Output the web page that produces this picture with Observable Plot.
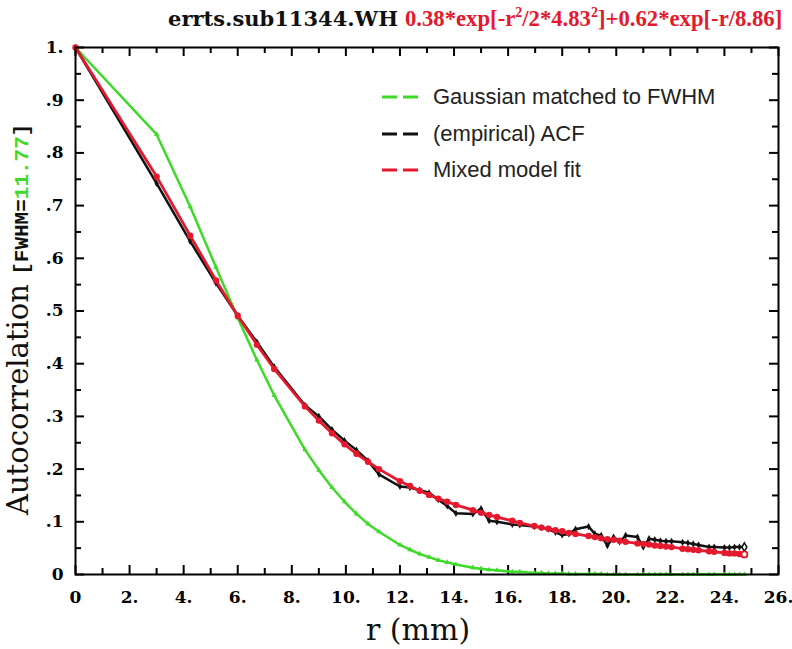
<!DOCTYPE html>
<html>
<head>
<meta charset="utf-8">
<script src="https://cdn.jsdelivr.net/npm/d3@7"></script>
<script src="https://cdn.jsdelivr.net/npm/@observablehq/plot@0.6"></script>
<style>
  html, body { margin: 0; padding: 0; background: #fff; }
  #chart { width: 792px; height: 649px; }
</style>
</head>
<body>
<div id="chart"></div>
<script>
// ---- data ----
const rVals = [0, 3.000, 4.243, 5.196, 6.000, 6.708, 7.348, 8.485, 9.000, 9.487, 9.950,
  10.392, 10.817, 11.225, 12.000, 12.369, 12.728, 13.077, 13.416, 13.748, 14.071,
  14.697, 15.000, 15.297, 15.588, 16.155, 16.432, 16.971, 17.234, 17.493, 17.748,
  18.000, 18.248, 18.493, 18.974, 19.209, 19.442, 19.672, 19.900, 20.125, 20.347,
  20.785, 21.000, 21.213, 21.424, 21.633, 21.840, 22.045, 22.450, 22.650, 22.847,
  23.043, 23.431, 23.622, 24.000, 24.187, 24.372, 24.556, 24.739];

const gaussianVals = [1.0, 0.835, 0.698, 0.583, 0.487, 0.407, 0.340, 0.237, 0.198, 0.165, 0.138,
  0.115, 0.096, 0.081, 0.056, 0.047, 0.039, 0.033, 0.027, 0.023, 0.019,
  0.013, 0.011, 0.009, 0.008, 0.005, 0.005, 0.003, 0.003, 0.002, 0.002,
  0.002, 0.001, 0.001, 0.001, 0.001, 0.001, 0.000, 0.000, 0.000, 0.000,
  0.000, 0.000, 0.000, 0.000, 0.000, 0.000, 0.000, 0.000, 0.000, 0.000,
  0.000, 0.000, 0.000, 0.000, 0.000, 0.000, 0.000, 0.000];

const acfVals = [1.0, 0.742, 0.632, 0.553, 0.491, 0.441, 0.394, 0.321, 0.300, 0.275, 0.254,
  0.236, 0.216, 0.190, 0.167, 0.165, 0.160, 0.155, 0.142, 0.130, 0.116,
  0.115, 0.125, 0.102, 0.100, 0.095, 0.094, 0.091, 0.089, 0.086, 0.080,
  0.075, 0.077, 0.086, 0.091, 0.077, 0.074, 0.055, 0.071, 0.062, 0.074,
  0.071, 0.052, 0.068, 0.066, 0.064, 0.063, 0.063, 0.061, 0.060, 0.058,
  0.056, 0.052, 0.052, 0.051, 0.051, 0.052, 0.052, 0.052];

const modelVals = [1.0, 0.755, 0.643, 0.558, 0.491, 0.436, 0.390, 0.319, 0.292, 0.268, 0.247,
  0.229, 0.214, 0.200, 0.177, 0.168, 0.159, 0.151, 0.144, 0.138, 0.132,
  0.122, 0.117, 0.113, 0.109, 0.102, 0.098, 0.092, 0.089, 0.087, 0.084,
  0.082, 0.079, 0.077, 0.073, 0.071, 0.069, 0.067, 0.066, 0.064, 0.062,
  0.059, 0.058, 0.057, 0.055, 0.054, 0.053, 0.052, 0.049, 0.048, 0.047,
  0.046, 0.044, 0.043, 0.041, 0.040, 0.040, 0.039, 0.038];

const xTicks = [0, 2, 4, 6, 8, 10, 12, 14, 16, 18, 20, 22, 24, 26];
const xTickLabels = ["0", "2.", "4.", "6.", "8.", "10.", "12.", "14.", "16.", "18.", "20.", "22.", "24.", "26."];
const xMinorTicks = [1, 3, 5, 7, 9, 11, 13, 15, 17, 19, 21, 23, 25];
const yTicks = [0, 0.1, 0.2, 0.3, 0.4, 0.5, 0.6, 0.7, 0.8, 0.9, 1.0];
const yTickLabels = ["0", ".1", ".2", ".3", ".4", ".5", ".6", ".7", ".8", ".9", "1."];
const yMinorTicks = [0.05, 0.15, 0.25, 0.35, 0.45, 0.55, 0.65, 0.75, 0.85, 0.95];

const seriesNames = ["Gaussian matched to FWHM", "(empirical) ACF", "Mixed model fit"];
const seriesColors = ["#3fd92a", "#111111", "#e5192e"];
const titleBlack = "errts.sub11344.WH";
const fwhmValue = "11.77";

// ---- build table ----
const rows = rVals.map((r, i) => ({r, g: gaussianVals[i], a: acfVals[i], m: modelVals[i]}));
const body = rows.slice(0, -1);
const last = rows.slice(-1);

const W = 792, H = 649, mL = 75, mR = 14, mT = 47, mB = 75;
const innerW = W - mL - mR, innerH = H - mT - mB;
const serif = "'DejaVu Serif', serif";
const serif2 = "'Liberation Serif', serif";

const plot = Plot.plot({
  width: W, height: H,
  marginLeft: mL, marginRight: mR, marginTop: mT, marginBottom: mB,
  x: {domain: [0, 26]},
  y: {domain: [0, 1]},
  style: {background: "white", color: "black"},
  marks: [
    // tick marks, inward on all sides
    Plot.ruleX(xTicks, {x: d => d, insetTop: innerH - 9, stroke: "black", strokeWidth: 2}),
    Plot.ruleX(xMinorTicks, {x: d => d, insetTop: innerH - 6, stroke: "black", strokeWidth: 2}),
    Plot.ruleX(xTicks, {x: d => d, insetBottom: innerH - 9, stroke: "black", strokeWidth: 2}),
    Plot.ruleX(xMinorTicks, {x: d => d, insetBottom: innerH - 6, stroke: "black", strokeWidth: 2}),
    Plot.ruleY(yTicks, {y: d => d, insetRight: innerW - 9, stroke: "black", strokeWidth: 2}),
    Plot.ruleY(yMinorTicks, {y: d => d, insetRight: innerW - 6, stroke: "black", strokeWidth: 2}),
    Plot.ruleY(yTicks, {y: d => d, insetLeft: innerW - 9, stroke: "black", strokeWidth: 2}),
    Plot.ruleY(yMinorTicks, {y: d => d, insetLeft: innerW - 6, stroke: "black", strokeWidth: 2}),
    Plot.axisX(xTicks, {tickSize: 0, tickPadding: 16, label: null,
      tickFormat: d => xTickLabels[xTicks.indexOf(d)],
      fontSize: 17, fontWeight: "bold", fontFamily: serif}),
    Plot.axisY(yTicks, {tickSize: 0, tickPadding: 12, label: null,
      tickFormat: d => yTickLabels[yTicks.indexOf(d)],
      fontSize: 17, fontWeight: "bold", fontFamily: serif}),
    // series
    Plot.line(rows, {x: "r", y: "g", stroke: seriesColors[0], strokeWidth: 2.5}),
    Plot.dot(rows, {x: "r", y: "g", symbol: "triangle", r: 2, fill: seriesColors[0]}),
    Plot.line(rows, {x: "r", y: "a", stroke: seriesColors[1], strokeWidth: 2.5}),
    Plot.dot(body, {x: "r", y: "a", symbol: "diamond", r: 2.2, fill: seriesColors[1]}),
    Plot.dot(last, {x: "r", y: "a", symbol: "diamond", r: 2.6, fill: "white", stroke: seriesColors[1], strokeWidth: 1.5}),
    Plot.line(rows, {x: "r", y: "m", stroke: seriesColors[2], strokeWidth: 2.8}),
    Plot.dot(body, {x: "r", y: "m", r: 3.2, fill: seriesColors[2]}),
    Plot.dot(last, {x: "r", y: "m", r: 3, fill: "white", stroke: seriesColors[2], strokeWidth: 1.8}),
    Plot.frame({stroke: "black", strokeWidth: 2})
  ]
});

document.getElementById("chart").appendChild(plot);
const svg = d3.select(plot);

// title (two parts)
svg.append("text")
  .attr("x", 398).attr("y", 26)
  .attr("text-anchor", "end")
  .attr("font-family", serif).attr("font-weight", "bold").attr("font-size", 21)
  .attr("fill", "#111")
  .text(titleBlack);
const red = seriesColors[2];
const tr = svg.append("text")
  .attr("x", 405).attr("y", 26)
  .attr("text-anchor", "start")
  .attr("font-family", serif2).attr("font-weight", "bold").attr("font-size", 22.7)
  .attr("fill", red);
tr.append("tspan").text("0.38*exp[-r");
tr.append("tspan").attr("font-size", 14).attr("dy", -9).text("2");
tr.append("tspan").attr("dy", 9).text("/2*4.83");
tr.append("tspan").attr("font-size", 14).attr("dy", -9).text("2");
tr.append("tspan").attr("dy", 9).text("]+0.62*exp[-r/8.86]");

// y-axis label
const ylab = svg.append("text")
  .attr("transform", "translate(28,515) rotate(-90)")
  .attr("text-anchor", "start");
const mono = "'Liberation Mono', monospace";
ylab.append("tspan").attr("font-family", serif).attr("font-size", 29).attr("fill", "#111").text("Autocorrelation ");
ylab.append("tspan").attr("font-family", mono).attr("font-weight", "bold").attr("font-size", 21).attr("fill", "#111").text("[FWHM=");
ylab.append("tspan").attr("font-family", mono).attr("font-weight", "bold").attr("font-size", 21).attr("fill", seriesColors[0]).text(fwhmValue);
ylab.append("tspan").attr("font-family", mono).attr("font-weight", "bold").attr("font-size", 21).attr("fill", "#111").text("]");

// x-axis label
svg.append("text")
  .attr("x", 418).attr("y", 640)
  .attr("text-anchor", "middle")
  .attr("font-family", serif).attr("font-size", 30).attr("fill", "#111")
  .text("r (mm)");

// legend
const legendY = [97, 134, 170];
seriesNames.forEach((name, i) => {
  svg.append("line")
    .attr("x1", 382).attr("x2", 418).attr("y1", legendY[i]).attr("y2", legendY[i])
    .attr("stroke", seriesColors[i]).attr("stroke-width", 3)
    .attr("stroke-dasharray", "15,6");
  svg.append("text")
    .attr("x", 433).attr("y", legendY[i] + 7)
    .attr("text-anchor", "start")
    .attr("font-family", "'Liberation Sans', Arial, sans-serif").attr("font-size", 22)
    .attr("fill", "#222")
    .text(name);
});
</script>
</body>
</html>
